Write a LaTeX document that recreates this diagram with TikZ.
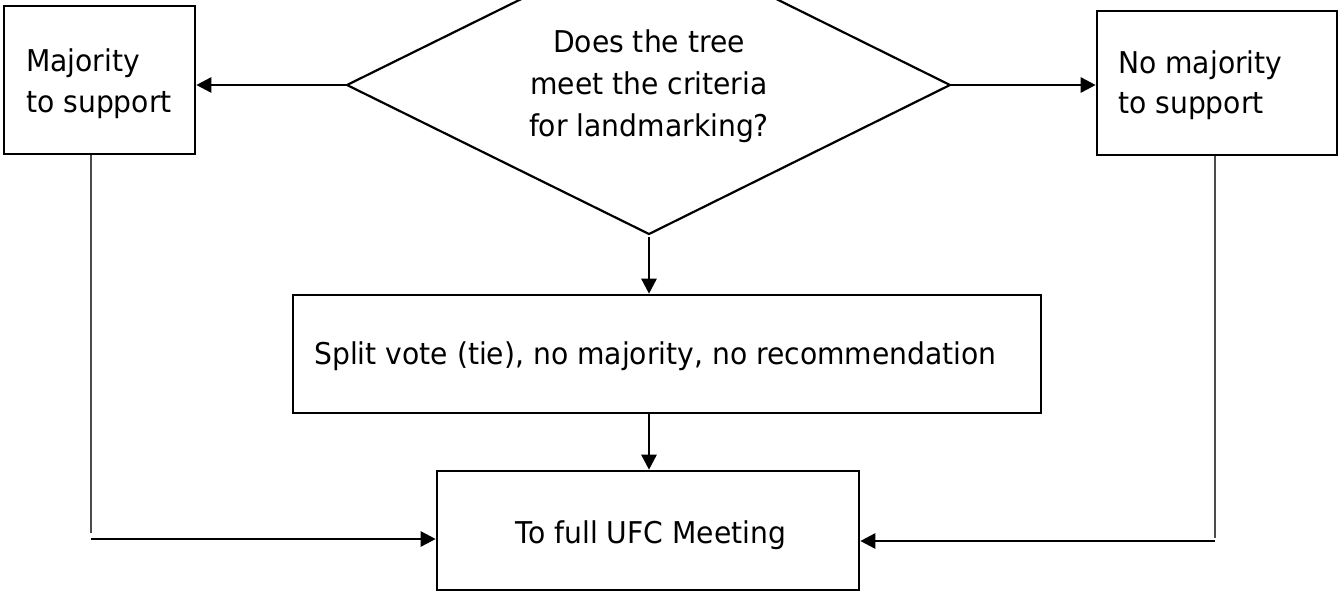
\documentclass[tikz,border=0pt]{standalone}
\usepackage{fontspec}
\setmainfont{DejaVu Sans}[FakeStretch=0.94]
\usetikzlibrary{arrows.meta}
\begin{document}
\begin{tikzpicture}[x=1pt,y=-1pt,
  box/.style={draw=black, line width=2.6pt, inner sep=0pt, fill=white},
  txt/.style={font=\fontsize{30}{36}\selectfont, inner sep=0pt, text=black},
  arr/.style={line width=2.6pt, draw=black, -{Triangle[length=15pt,width=15pt]}},
  thinline/.style={line width=1.5pt, draw=black!70},
  decision/.style={draw=black, line width=2.2pt}]
\useasboundingbox (0,0) rectangle (1338,592);
\clip (0,0) rectangle (1338,592);
\fill[white] (0,0) rectangle (1338,592);

% boxes
\node[box, minimum width=191pt, minimum height=148pt] (L) at (99.5,80) {};
\node[box, minimum width=240pt, minimum height=144pt] (R) at (1217,83) {};
\node[box, minimum width=748pt, minimum height=118pt] (M) at (667,354) {};
\node[box, minimum width=422pt, minimum height=119pt] (B) at (648,530.5) {};

% diamond
\coordinate (DL) at (347,85);
\coordinate (DT) at (649,-64);
\coordinate (DR) at (950,85);
\coordinate (DB) at (649,234);
\draw[decision] (DL) -- (DT) -- (DR) -- (DB) -- cycle;

% texts
\node[txt, anchor=base west] (Lt1) at (26,71) {Majority};
\node[txt, anchor=base west] (Lt2) at (26,112) {to support};
\node[txt, anchor=base west] (Rt1) at (1118,73) {No majority};
\node[txt, anchor=base west] (Rt2) at (1118,113) {to support};
\node[txt, anchor=base] (Dt1) at (649,52) {Does the tree};
\node[txt, anchor=base] (Dt2) at (649,94) {meet the criteria};
\node[txt, anchor=base] (Dt3) at (649,136) {for landmarking?};
\node[txt, anchor=base west] (Mt) at (314,364) {Split vote (tie), no majority, no recommendation};
\node[txt, anchor=base] (Bt) at (651,543) {To full UFC Meeting};

% connectors
\draw[arr] (DL) -- (DL -| L.east);
\draw[arr] (DR) -- (DR -| R.west);
\draw[arr, shorten <=3pt] (DB) -- (DB |- M.north);
\draw[arr] (DB |- M.south) -- (DB |- B.north);

\coordinate (LV) at (91,533);
\coordinate (LH) at (91,539);
\draw[thinline] (LV |- L.south) -- (LV);
\draw[arr] (LH) -- (LH -| B.west);

\coordinate (RV) at (1215,538);
\coordinate (RH) at (1215,541);
\draw[thinline] (RV |- R.south) -- (RV);
\draw[arr] (RH) -- (RH -| B.east);
\end{tikzpicture}
\end{document}
